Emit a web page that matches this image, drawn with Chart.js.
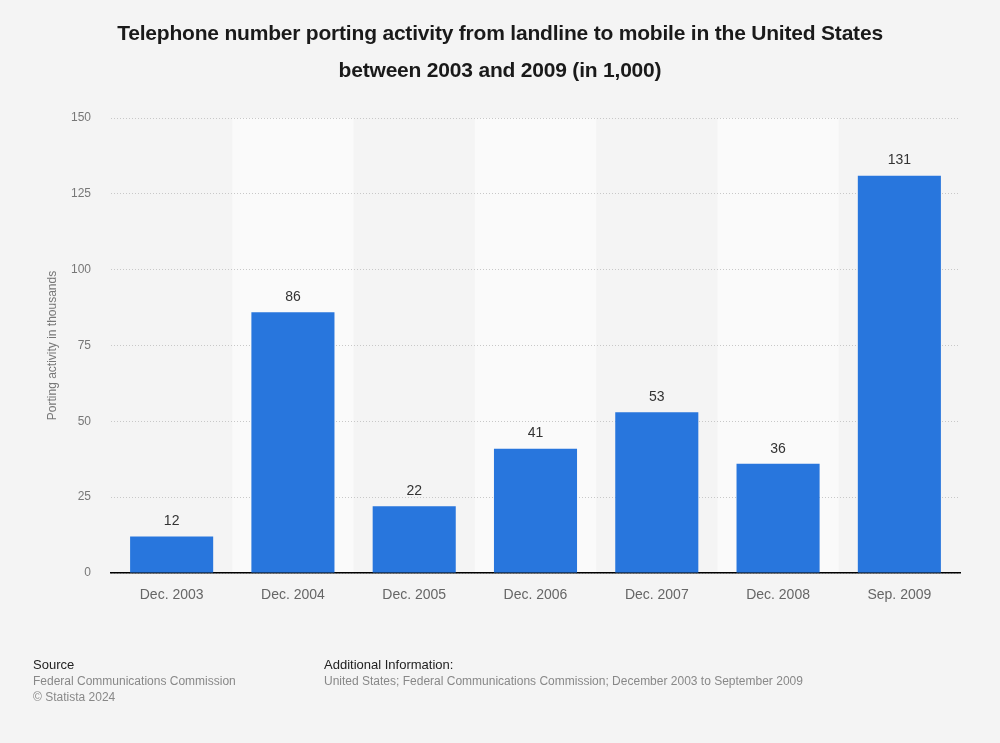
<!DOCTYPE html>
<html>
<head>
<meta charset="utf-8">
<script src="https://cdn.jsdelivr.net/npm/chart.js@4/dist/chart.umd.min.js"></script>
<style>
  html, body { margin: 0; padding: 0; background: #f4f4f4; }
  #wrap { position: relative; width: 1000px; height: 743px; font-family: "Liberation Sans", Arial, sans-serif; }
  #title { position: absolute; left: 0; top: 14px; width: 1000px; text-align: center; font-weight: bold; font-size: 21px; line-height: 37px; color: #1a1a1a; letter-spacing: -0.2px; }
  canvas { position: absolute; left: 0; top: 0; }
  .foot { position: absolute; font-size: 12px; line-height: 16px; color: #888; }
  .foot b { font-weight: normal; color: #222; font-size: 13px; }
</style>
</head>
<body>
<div id="wrap">
  <canvas id="c" width="1000" height="743"></canvas>
  <div id="title">Telephone number porting activity from landline to mobile in the United States<br>between 2003 and 2009 (in 1,000)</div>
  <div class="foot" style="left:33px; top:657px;"><b>Source</b><br>Federal Communications Commission<br>© Statista 2024</div>
  <div class="foot" style="left:324px; top:657px;"><b>Additional Information:</b><br>United States; Federal Communications Commission; December 2003 to September 2009</div>
</div>
<script>
const categories = ["Dec. 2003", "Dec. 2004", "Dec. 2005", "Dec. 2006", "Dec. 2007", "Dec. 2008", "Sep. 2009"];
const values = [12, 86, 22, 41, 53, 36, 131];
const yTicks = [0, 25, 50, 75, 100, 125, 150];
const yTitle = "Porting activity in thousands";

const labelPlugin = {
  id: 'vals',
  afterDatasetsDraw(chart) {
    const { ctx } = chart;
    const meta = chart.getDatasetMeta(0);
    ctx.save();
    ctx.font = '14px "Liberation Sans", Arial, sans-serif';
    ctx.fillStyle = '#333';
    ctx.textAlign = 'center';
    ctx.textBaseline = 'bottom';
    meta.data.forEach((bar, i) => {
      ctx.fillText(String(values[i]), bar.x, bar.y - 8);
    });
    ctx.restore();
  }
};

const bandFirst = {
  id: 'bandFirst',
  beforeDraw(chart) {
    const { ctx, chartArea, scales } = chart;
    const n = categories.length;
    const w = (chartArea.right - chartArea.left) / n;
    ctx.save();
    ctx.fillStyle = '#fafafa';
    for (let i = 1; i < n; i += 2) {
      const cx = scales.x.getPixelForValue(i);
      ctx.fillRect(cx - w / 2, chartArea.top, w, chartArea.bottom - chartArea.top);
    }
    ctx.restore();
  }
};

new Chart(document.getElementById('c'), {
  type: 'bar',
  data: {
    labels: categories,
    datasets: [{
      data: values,
      backgroundColor: '#2876dd',
      borderWidth: 0,
      barPercentage: 0.685,
      categoryPercentage: 1.0
    }]
  },
  options: {
    responsive: false,
    animation: false,
    events: [],
    layout: { padding: { top: 118, right: 40, bottom: 130, left: 0 } },
    plugins: { legend: { display: false }, tooltip: { enabled: false }, title: { display: false } },
    scales: {
      x: {
        grid: { display: false, drawTicks: false },
        border: { display: true, color: '#000', width: 1.5 },
        ticks: { color: '#666', padding: 14, font: { size: 14, family: '"Liberation Sans", Arial, sans-serif' }, maxRotation: 0 },
        afterFit(s) { s.height = 40; }
      },
      y: {
        min: 0, max: 150,
        afterBuildTicks(s) { s.ticks = yTicks.map(v => ({ value: v })); },
        grid: { color: '#c8c8c8', drawTicks: false, lineWidth: 1 },
        border: { display: false, dash: [1, 2] },
        ticks: { color: '#777', padding: 20, font: { size: 12, family: '"Liberation Sans", Arial, sans-serif' } },
        title: { display: true, text: yTitle, color: '#777', font: { size: 12, family: '"Liberation Sans", Arial, sans-serif' }, padding: { top: 45, bottom: 0 } },
        afterFit(s) { s.width = 111; }
      }
    }
  },
  plugins: [bandFirst, labelPlugin]
});
</script>
</body>
</html>
